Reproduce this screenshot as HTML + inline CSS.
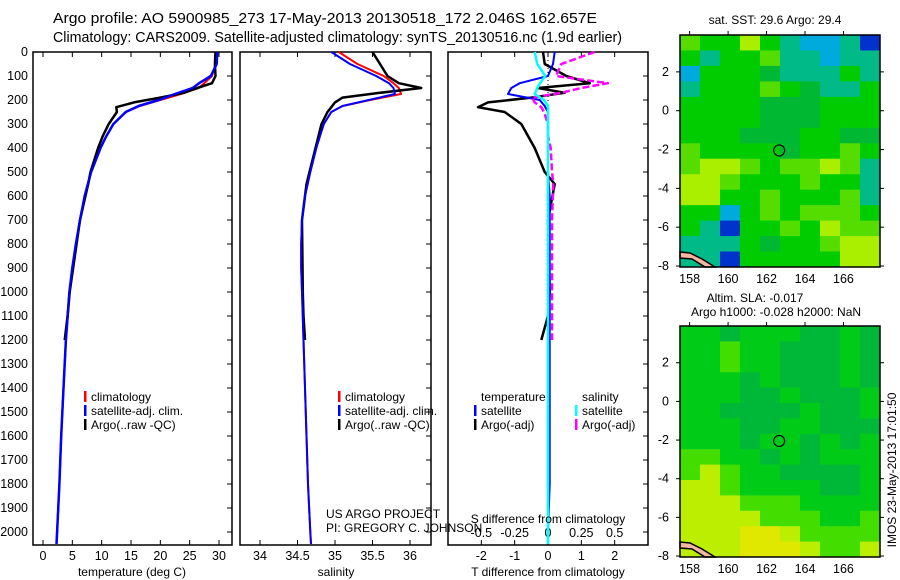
<!DOCTYPE html>
<html><head><meta charset="utf-8"><style>
body{margin:0;background:#fff;}
svg{display:block;font-family:"Liberation Sans",sans-serif;}
text{fill:#000;}
</style></head><body>
<svg id="fig" width="900" height="580" viewBox="0 0 900 580">
<text x="53" y="23" font-size="14.5" textLength="544" lengthAdjust="spacingAndGlyphs">Argo profile: AO 5900985_273 17-May-2013 20130518_172 2.046S 162.657E</text>
<text x="53" y="42" font-size="14.5" textLength="569" lengthAdjust="spacingAndGlyphs">Climatology: CARS2009. Satellite-adjusted climatology: synTS_20130516.nc (1.9d earlier)</text>
<g id="plots"></g>
<g id="maps"></g>
<text x="326" y="518" font-size="12">US ARGO PROJECT</text>
<text x="326" y="532" font-size="12">PI: GREGORY C. JOHNSON</text>
<text transform="translate(896,470) rotate(-90)" text-anchor="middle" font-size="12">IMOS 23-May-2013 17:01:50</text>
</svg>
<script>
// ---- data ----
const climDepth=[0,50,100,130,150,175,200,225,250,300,350,400,500,600,700,800,900,1000,1200,1400,1600,1800,2000,2050];
const climT=[29.5,29.4,28.8,27.5,26.5,23.5,20.0,16.5,14.2,12.0,10.8,9.8,8.2,7.1,6.3,5.6,5.0,4.5,3.9,3.5,3.1,2.8,2.4,2.3];
const satT=[29.7,29.6,28.6,26.6,25.5,22.5,19.7,16.3,14.1,12.0,10.8,9.8,8.2,7.1,6.3,5.6,5.0,4.5,3.9,3.5,3.1,2.8,2.4,2.3];
const argoDepth=[0,50,100,130,150,170,190,210,230,250,300,350,400,500,550,700,1000,1100,1200];
const argoT=[29.4,29.3,29.4,28.8,26.3,24.0,20.0,15.5,12.5,12.6,11.2,10.2,9.4,8.1,7.7,6.3,4.55,4.2,3.7];
const climS=[35.05,35.3,35.65,35.78,35.85,35.88,35.47,35.1,34.95,34.85,34.8,34.75,34.67,34.6,34.56,34.55,34.55,34.56,34.58,34.6,34.62,34.64,34.67,34.68];
const satS=[34.95,35.2,35.55,35.72,35.78,35.8,35.45,35.1,34.95,34.85,34.8,34.75,34.67,34.6,34.56,34.55,34.55,34.56,34.58,34.6,34.62,34.64,34.67,34.68];
const argoS=[35.5,35.6,35.7,35.85,36.15,35.6,35.1,35.0,34.95,34.9,34.82,34.78,34.74,34.66,34.62,34.56,34.57,34.58,34.6];
const satTdiff=[0.2,0.15,0.0,-0.85,-1.1,-1.2,-0.25,-0.1,0.0,0.0,0.0,0.0,0.0,0.05,0.05,0.05,0.05,0.05,0.05,0.05,0.05,0.05,0.0,0.0];
const satSdiff=[-0.1,-0.08,-0.02,-0.06,-0.08,-0.1,-0.03,0.0,0.0,0.0,0.0,0.0,0.0,0.0,0.0,0.0,0.0,0.0,0.0,0.0,0.0,0.0,0.0,0.0];
const argoTdiff=[-0.15,-0.1,0.55,1.25,-0.3,0.5,-0.5,-1.8,-2.1,-1.3,-0.8,-0.6,-0.4,-0.1,0.2,0.0,0.05,0.0,-0.2];
const argoSdiff=[0.35,0.1,0.06,0.45,0.25,0.1,-0.12,-0.1,-0.05,-0.03,0.0,0.0,0.02,0.03,0.04,0.03,0.03,0.03,0.03];
const depthTicks=[0,100,200,300,400,500,600,700,800,900,1000,1100,1200,1300,1400,1500,1600,1700,1800,1900,2000];
const tempTicks=[0,5,10,15,20,25,30];
const salTicks=[34,34.5,35,35.5,36];
const tdiffTicks=[-2,-1,0,1,2];
const sdiffTicks=[-0.5,-0.25,0,0.25,0.5];
const lonTicks=[158,160,162,164,166];
const latTicks=[2,0,-2,-4,-6,-8];
const argoLon=162.657, argoLat=-2.046;
const sstGrid=["lggygtbbtB","gtgglttbtt","bgggdtttgt","tggglgdttg","ggggdddggg","ggggdddggg","gggdddggdd","lggggdgglg","lyylgllylt","yylggglggt","yygglggglt","ggbglglllg","gtBgglgyll","tttgdgglyy","ttBgggggyy"];
const slaGrid=["ggdgggddgd","gglggdddgd","gglggdddgd","gggdgdddgd","gggddgdddg","ggddddgddg","gggddggddd","gggdggdgdg","llggdgdggg","lylggddddg","yylggggddg","yyylllgggg","yyyylllggl","yyyYYyllll","yyyYYYylly"];
const sstCol={g:"#00cc00",d:"#00b832",l:"#55dd00",y:"#aaee00",t:"#00bb88",b:"#00aadd",B:"#0033cc"};
const slaCol={g:"#00cc18",d:"#00b838",l:"#44dd00",y:"#bbee00",Y:"#e0e800"};

const NS="http://www.w3.org/2000/svg";
const plots=document.getElementById('plots');
const mapsG=document.getElementById('maps');
function mk(tag,attrs,parent){const e=document.createElementNS(NS,tag);for(const k in attrs)e.setAttribute(k,attrs[k]);(parent||plots).appendChild(e);return e;}
const yTop=52, yBot=545;
function yD(d){return yTop+d*0.24;}
function lin(d0,d1,r0,r1){return v=>r0+(v-d0)*(r1-r0)/(d1-d0);}

function panel(name,x0,x1){
  const r=mk('rect',{x:x0,y:yTop,width:x1-x0,height:yBot-yTop,fill:'none',stroke:'#000','stroke-width':1.5});
  
  
  depthTicks.forEach(d=>{
    const t=mk('line',{x1:x1-5,x2:x1,y1:yD(d),y2:yD(d),stroke:'#000'});
    
    
  });
}
function xticks(name,x0,x1,ticks,sx,labelY,showLabels){
  ticks.forEach(v=>{
    const x=sx(v);
    const a=mk('line',{x1:x,x2:x,y1:yBot-5,y2:yBot,stroke:'#000'});
    
    
    const b=mk('line',{x1:x,x2:x,y1:yTop,y2:yTop+5,stroke:'#000'});
    
    
    if(showLabels){
      const t=mk('text',{x:x,y:labelY,'text-anchor':'middle','font-size':12.5});
      t.textContent=String(v);
      
      
    }
  });
}
function line(name,depths,vals,sx,color,w,dash){
  const pts=depths.map((d,i)=>sx(vals[i]).toFixed(1)+','+yD(d).toFixed(1)).join(' ');
  const p=mk('polyline',{points:pts,fill:'none',stroke:color,'stroke-width':w,'stroke-linejoin':'round'});
  if(dash)p.setAttribute('stroke-dasharray',dash);
  
  
}
function legend(name,x,y,items){
  items.forEach((it,i)=>{
    const m=mk('rect',{x:x-7,y:y+i*14-10,width:2.5,height:11,fill:it[1]});
    
    
    const t=mk('text',{x:x,y:y+i*14,'font-size':12});
    t.textContent=it[0];
    
    
  });
}

depthTicks.forEach(d=>{
  const t=mk('text',{x:28,y:yD(d)+4,'text-anchor':'end','font-size':12.5});
  t.textContent=String(d);
  
  
});

const sT=lin(0,30,43,219);
panel('temperature-panel',33,232);
xticks('temperature',33,232,tempTicks,sT,560,true);
line('temperature-climatology',climDepth,climT,sT,'#f00',2);
line('temperature-satellite-adj',climDepth,satT,sT,'#00f',2.5);
line('temperature-argo',argoDepth,argoT,sT,'#000',2.5);
line('temperature-satellite-adj-overlay',climDepth,satT,sT,'#00f',2);
{const t=mk('text',{x:132,y:576,'text-anchor':'middle','font-size':12});t.textContent='temperature (deg C)';}
legend('temperature-legend',91,401,[['climatology','#f00'],['satellite-adj. clim.','#00f'],['Argo(..raw -QC)','#000']]);

const sS=lin(34,36,260,410);
panel('salinity-panel',240,431);
xticks('salinity',240,431,salTicks,sS,560,true);
line('salinity-climatology',climDepth,climS,sS,'#f00',2);
line('salinity-argo',argoDepth,argoS,sS,'#000',2.5);
line('salinity-satellite-adj',climDepth,satS,sS,'#00f',2);
{const t=mk('text',{x:336,y:576,'text-anchor':'middle','font-size':12});t.textContent='salinity';}
legend('salinity-legend',345,401,[['climatology','#f00'],['satellite-adj. clim.','#00f'],['Argo(..raw -QC)','#000']]);

const sTd=lin(-3,3,448,648);
const sSd=v=>sTd(v*4);
panel('difference-panel',448,648);
xticks('tdiff',448,648,tdiffTicks,sTd,560,true);
sdiffTicks.forEach(v=>{const t=mk('text',{x:sSd(v),y:537,'text-anchor':'middle','font-size':12.5});t.textContent=String(v);});
{const z=mk('line',{x1:sTd(0),x2:sTd(0),y1:yTop,y2:yBot,stroke:'#000','stroke-dasharray':'1,3'});}
line('argo-tdiff',argoDepth,argoTdiff,sTd,'#000',2.5);
line('satellite-tdiff',climDepth,satTdiff,sTd,'#00f',2);
line('argo-sdiff',argoDepth,argoSdiff,sSd,'#f0f',2.5,'7,3');
line('satellite-sdiff',climDepth,satSdiff,sSd,'#0ff',2.5);
{const t=mk('text',{x:548,y:523,'text-anchor':'middle','font-size':12});t.textContent='S difference from climatology';}
{const t=mk('text',{x:548,y:576,'text-anchor':'middle','font-size':12});t.textContent='T difference from climatology';}
{const t=mk('text',{x:481,y:401,'font-size':12});t.textContent='temperature';}
{const t=mk('text',{x:582,y:401,'font-size':12});t.textContent='salinity';}
legend('tdiff-legend',481,415,[['satellite','#00f'],['Argo(-adj)','#000']]);
legend('sdiff-legend',582,415,[['satellite','#0ff'],['Argo(-adj)','#f0f']]);

function drawMap(name,x0,x1,y0,y1,grid,cols,titles){
  const lonMin=157.5, lonMax=167.9, latMax=3.9, latMin=-8.05;
  const sx=lin(lonMin,lonMax,x0,x1), sy=lin(latMax,latMin,y0,y1);
  const nr=grid.length, nc=grid[0].length, cw=(x1-x0)/nc, ch=(y1-y0)/nr;
  grid.forEach((row,r)=>{for(let c=0;c<nc;c++){
    const e=mk('rect',{x:x0+c*cw,y:y0+r*ch,width:cw+0.5,height:ch+0.5,fill:cols[row[c]]},mapsG);
    
    
  }});
  const coast=mk('polygon',{points:`${x0},${y1-15} ${x0+10},${y1-14} ${x0+22},${y1-8} ${x0+35},${y1} ${x0+25},${y1} ${x0+12},${y1-8} ${x0},${y1-9}`,fill:'#f4b8a0',stroke:'#000','stroke-width':1.5},mapsG);
  
  
  const fr=mk('rect',{x:x0,y:y0,width:x1-x0,height:y1-y0,fill:'none',stroke:'#000','stroke-width':1.5},mapsG);
  
  
  const ci=mk('circle',{cx:sx(argoLon),cy:sy(argoLat),r:5.5,fill:'none',stroke:'#000','stroke-width':1.2},mapsG);
  
  
  lonTicks.forEach(v=>{
    const t=mk('text',{x:sx(v),y:y1+16,'text-anchor':'middle','font-size':12.5},mapsG);t.textContent=String(v);
    
    
    const a=mk('line',{x1:sx(v),x2:sx(v),y1:y0-4,y2:y0,stroke:'#000'},mapsG);
    
    
  });
  latTicks.forEach(v=>{
    const t=mk('text',{x:x0-11,y:sy(v)+4,'text-anchor':'end','font-size':12.5},mapsG);t.textContent=String(v);
    
    
    const a=mk('line',{x1:x0-4,x2:x0,y1:sy(v),y2:sy(v),stroke:'#000'},mapsG);
    
    
    const b=mk('line',{x1:x1,x2:x1+4,y1:sy(v),y2:sy(v),stroke:'#000'},mapsG);
    
    
  });
  titles.forEach((tt,i)=>{
    const t=mk('text',{x:tt[1],y:tt[2],'text-anchor':'middle','font-size':12},mapsG);t.textContent=tt[0];
    
    
  });
}
drawMap('sst-map',680,880,35,267,sstGrid,sstCol,[['sat. SST: 29.6 Argo: 29.4',775,24]]);
drawMap('sla-map',680,880,326,557,slaGrid,slaCol,[['Altim. SLA: -0.017',755,302],['Argo h1000: -0.028 h2000: NaN',776,316]]);
</script>
</body></html>
